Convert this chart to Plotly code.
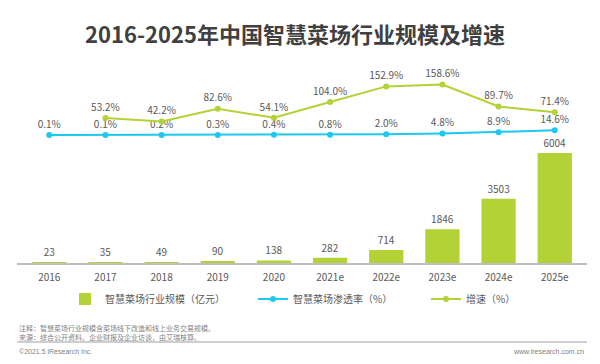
import plotly.graph_objects as go

categories = ["2016", "2017", "2018", "2019", "2020", "2021e", "2022e", "2023e", "2024e", "2025e"]
market_size = [23, 35, 49, 90, 138, 282, 714, 1846, 3503, 6004]
penetration = [0.1, 0.1, 0.2, 0.3, 0.4, 0.8, 2.0, 4.8, 8.9, 14.6]
growth = [None, 53.2, 42.2, 82.6, 54.1, 104.0, 152.9, 158.6, 89.7, 71.4]

W, H = 600, 364
L, R, T, B = 17, 13, 60, 101
PLOT_H = H - T - B

def py(y):
    return (H - B - y) / PLOT_H

def px(x):
    return (x - L) / (W - L - R)

GREEN = "#B2D235"
BLUE = "#1EC8F0"
LABEL = "#595959"
FONT = "Noto Sans CJK SC"

fig = go.Figure()
fig.add_trace(go.Bar(
    x=categories, y=market_size, name="智慧菜场行业规模（亿元）",
    marker=dict(color=GREEN, line=dict(width=0)),
    text=[str(v) for v in market_size], textposition="outside",
    textfont=dict(size=10, color=LABEL, family=FONT),
    cliponaxis=False, legend="legend", yaxis="y",
))
fig.add_trace(go.Scatter(
    x=categories, y=penetration, name="智慧菜场渗透率（%）",
    mode="lines+markers+text", line=dict(color=BLUE, width=2),
    marker=dict(color=BLUE, size=6),
    text=[f"{v:.1f}%" for v in penetration], textposition="top center",
    textfont=dict(size=10, color=LABEL, family=FONT),
    cliponaxis=False, legend="legend2", yaxis="y2",
))
fig.add_trace(go.Scatter(
    x=categories, y=growth, name="增速（%）",
    mode="lines+markers+text", line=dict(color=GREEN, width=2),
    marker=dict(color=GREEN, size=6),
    text=[("" if v is None else f"{v:.1f}%") for v in growth], textposition="top center",
    textfont=dict(size=10, color=LABEL, family=FONT),
    cliponaxis=False, legend="legend3", yaxis="y2",
))

bar_scale = 110 / 6004
line_scale = 0.318
fig.update_layout(
    width=W, height=H, margin=dict(l=L, r=R, t=T, b=B),
    paper_bgcolor="white", plot_bgcolor="white",
    font=dict(family=FONT, color=LABEL, size=10),
    bargap=0.39, showlegend=True,
    xaxis=dict(type="category", showline=True, linecolor="#BFBFBF", linewidth=1.5,
               showgrid=False, ticks="", ticklabelstandoff=4,
               tickfont=dict(size=10, color=LABEL), fixedrange=True),
    yaxis=dict(range=[0, PLOT_H / bar_scale], visible=False, showgrid=False),
    yaxis2=dict(range=[-(H - B - 135) / line_scale, (135 - T) / line_scale],
                overlaying="y", visible=False, showgrid=False),
    legend=dict(orientation="h", x=px(65), y=py(299), yanchor="middle", xanchor="left",
                font=dict(size=10, color=LABEL), bgcolor="rgba(0,0,0,0)"),
    legend2=dict(orientation="h", x=px(253), y=py(299), yanchor="middle", xanchor="left",
                 font=dict(size=10, color=LABEL), bgcolor="rgba(0,0,0,0)"),
    legend3=dict(orientation="h", x=px(426), y=py(299), yanchor="middle", xanchor="left",
                 font=dict(size=10, color=LABEL), bgcolor="rgba(0,0,0,0)"),
    annotations=[
        dict(text="<b>2016-2025年中国智慧菜场行业规模及增速</b>", xref="paper", yref="paper",
             x=px(295), y=py(33), xanchor="center", yanchor="middle", showarrow=False,
             font=dict(size=22, color="#404040", family=FONT)),
        dict(text="注释：智慧菜场行业规模含菜场线下改造和线上业务交易规模。<br>来源：综合公开资料、企业财报及企业访谈，由艾瑞核算。",
             xref="paper", yref="paper", x=px(17), y=py(332), xanchor="left", yanchor="middle",
             align="left", showarrow=False, font=dict(size=7, color="#7F7F7F", family=FONT)),
        dict(text="©2021.5 iResearch Inc.", xref="paper", yref="paper", x=px(17), y=py(351),
             xanchor="left", yanchor="middle", showarrow=False,
             font=dict(size=7, color="#7F7F7F", family="Liberation Sans")),
        dict(text="www.iresearch.com.cn", xref="paper", yref="paper", x=px(586), y=py(351),
             xanchor="right", yanchor="middle", showarrow=False,
             font=dict(size=7, color="#7F7F7F", family="Liberation Sans")),
    ],
    shapes=[dict(type="line", xref="paper", yref="paper", x0=px(17), x1=px(587),
                 y0=py(342), y1=py(342), line=dict(color="#BFBFBF", width=1.5))],
)

fig.write_html("out.html", config={"displayModeBar": False},
               post_script="document.body.style.margin='0';")
